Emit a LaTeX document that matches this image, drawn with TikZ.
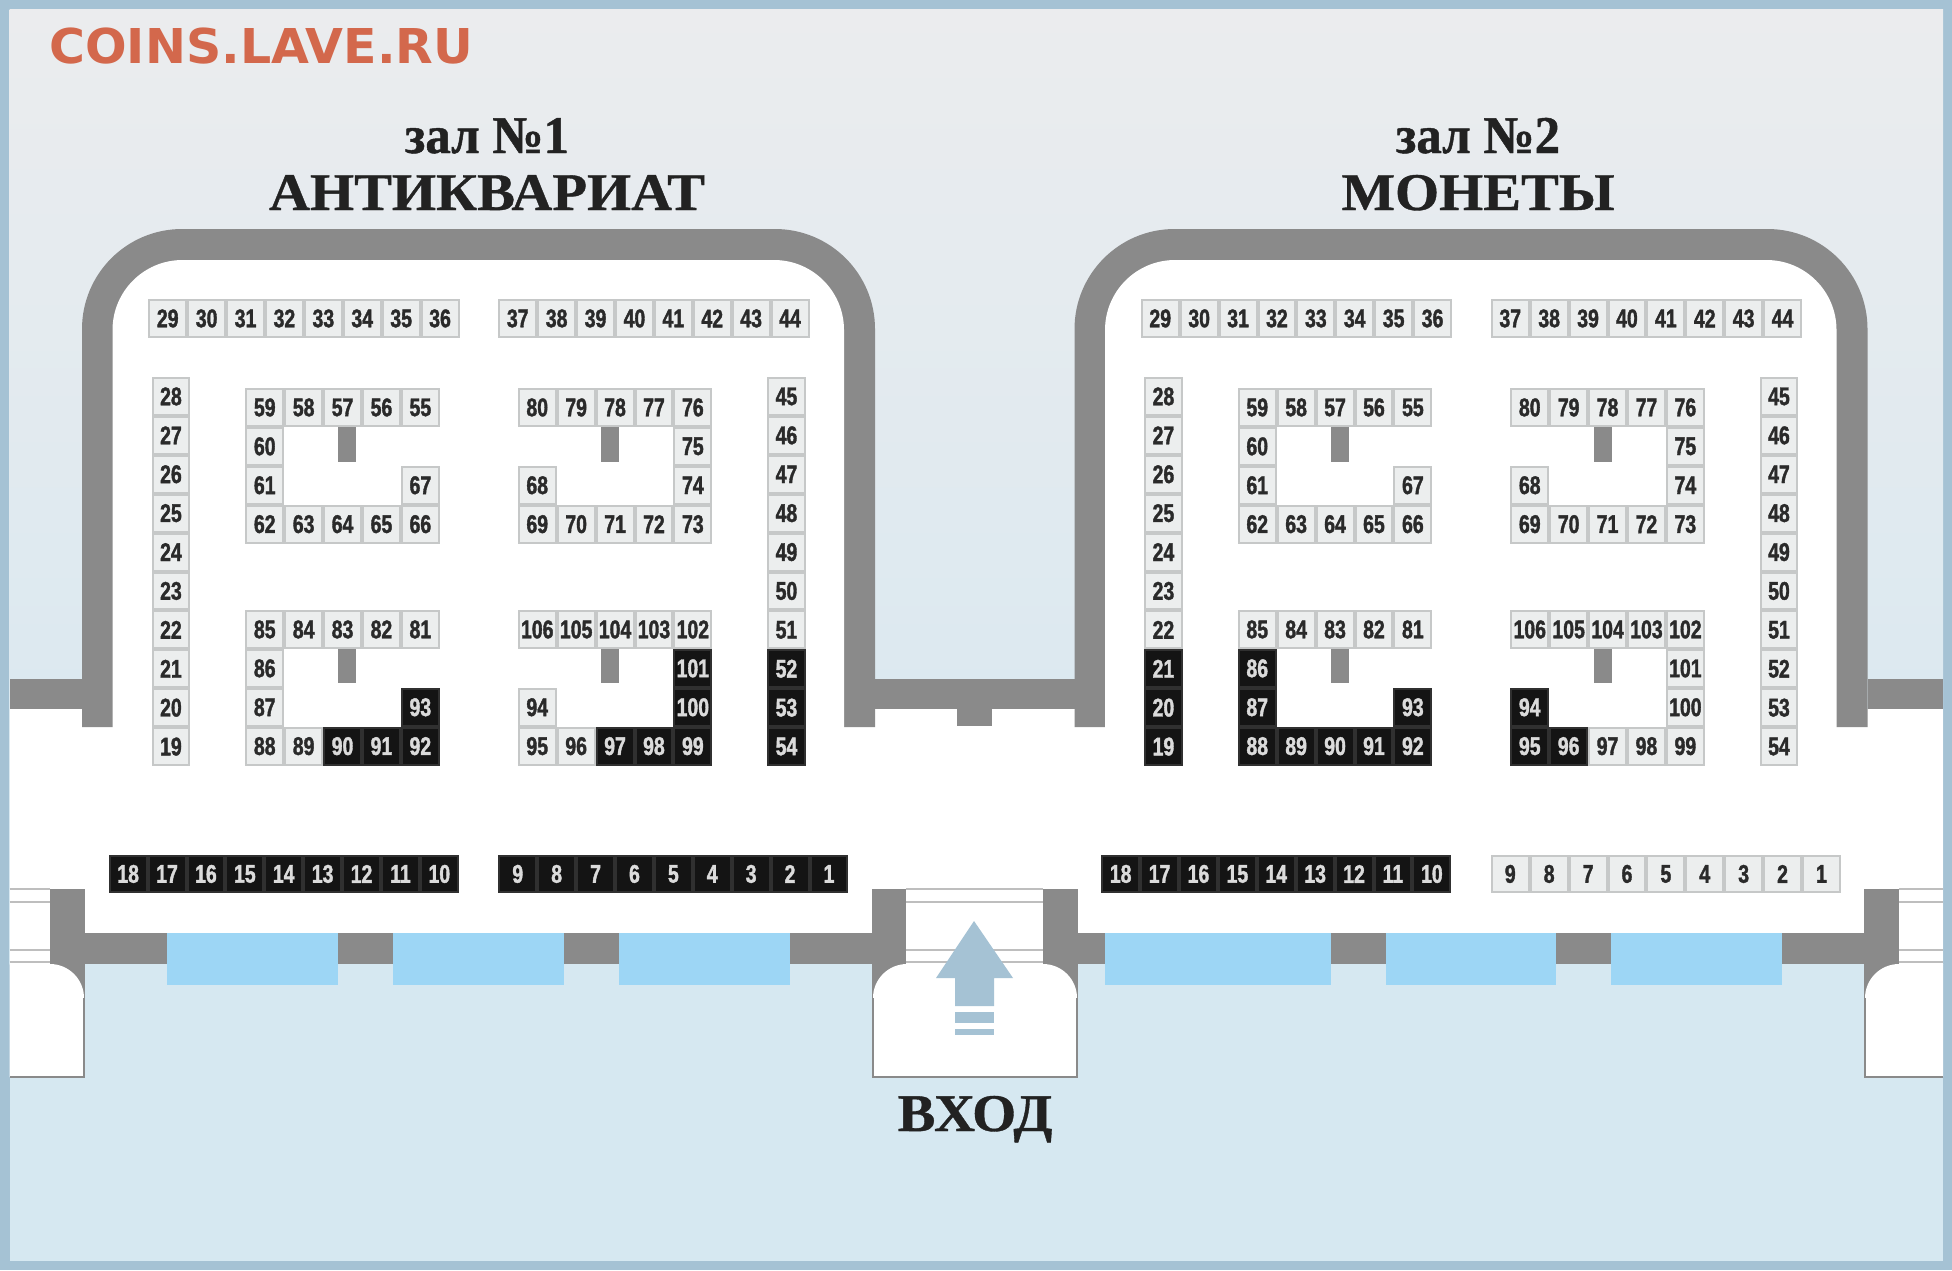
\documentclass[tikz,border=0pt]{standalone}
\usepackage{fontspec}
\setmainfont{Liberation Sans}
\newfontfamily\ttlf[FakeStretch=1.07,FakeBold=0.7]{Liberation Serif}
\newfontfamily\hallf[FakeStretch=0.96,FakeBold=0.9]{Liberation Serif}
\newfontfamily\numf[FakeStretch=0.76,FakeBold=1.4]{Liberation Sans}
\newfontfamily\logof[FakeStretch=1.02]{DejaVu Sans}
\definecolor{frame}{HTML}{A5C2D4}
\definecolor{sky}{HTML}{EBECEE}
\definecolor{ground}{HTML}{D6E8F1}
\definecolor{wall}{HTML}{8A8A8A}
\definecolor{glass}{HTML}{9DD6F5}
\definecolor{stairline}{HTML}{BEBEBE}
\definecolor{cellfill}{HTML}{ECEEEE}
\definecolor{celledge}{HTML}{C6C8C8}
\definecolor{inkdark}{HTML}{2A2A2A}
\definecolor{darkfill}{HTML}{141414}
\definecolor{darkedge}{HTML}{303030}
\definecolor{logored}{HTML}{D3684C}
\definecolor{titleink}{HTML}{222222}
\tikzset{
  cellbox/.style={draw=celledge,fill=cellfill,line width=1pt,minimum width=18.45pt,minimum height=18.45pt,
    inner sep=0pt,outer sep=0pt,text=inkdark,font=\numf\bfseries\fontsize{12.8}{13}\selectfont},
  celldark/.style={cellbox,draw=darkedge,fill=darkfill,text=black!14},
  titletext/.style={anchor=base,inner sep=0pt,text=titleink,font=\ttlf\bfseries\fontsize{26.5}{28}\selectfont},
  halltext/.style={anchor=base,inner sep=0pt,text=titleink,font=\hallf\bfseries\fontsize{26.5}{28}\selectfont},
  logotext/.style={anchor=base west,inner sep=0pt,text=logored,font=\logof\bfseries\fontsize{24}{26}\selectfont},
  wallfill/.style={fill=wall},
  glassfill/.style={fill=glass},
  stair/.style={draw=stairline,line width=1pt},
  edgeline/.style={draw=wall,line width=0.8pt},
  arrowfill/.style={fill=frame}
}
\def\cw{38.9}
\newcommand\markdark[2]{\foreach \n in {#2}{\expandafter\gdef\csname dk#1-\n\endcsname{}}}
\markdark{1}{90,91,92,93,97,98,99,100,101,52,53,54,18,17,16,15,14,13,12,11,10,9,8,7,6,5,4,3,2,1}
\markdark{2}{19,20,21,86,87,88,89,90,91,92,93,94,95,96,18,17,16,15,14,13,12,11,10}
\newcommand\bth[4]{\ifcsname dk#1-#4\endcsname\def\st{celldark}\else\def\st{cellbox}\fi
  \node[\st] (h#1b#4) at ({#2+19.45},{#3+19.45}) {#4};}
\newcommand\rowb[4]{\foreach \n [count=\i from 0] in {#4}{\bth{#1}{#2+\i*\cw}{#3}{\n}}}
\newcommand\colb[4]{\foreach \n [count=\i from 0] in {#4}{\bth{#1}{#2}{#3+\i*\cw}{\n}}}
\newcommand\hallbooths[2]{
  \rowb{#1}{#2+148.3}{299}{29,30,31,32,33,34,35,36}
  \rowb{#1}{#2+498.3}{299}{37,38,39,40,41,42,43,44}
  \colb{#1}{#2+151.5}{377}{28,27,26,25,24,23,22,21,20,19}
  \colb{#1}{#2+767}{377}{45,46,47,48,49,50,51,52,53,54}
  \rowb{#1}{#2+245.3}{388}{59,58,57,56,55}
  \colb{#1}{#2+245.3}{426.9}{60,61}
  \bth{#1}{#2+400.9}{465.8}{67}
  \rowb{#1}{#2+245.3}{504.7}{62,63,64,65,66}
  \rowb{#1}{#2+517.8}{388}{80,79,78,77,76}
  \colb{#1}{#2+673.4}{426.9}{75,74}
  \bth{#1}{#2+517.8}{465.8}{68}
  \rowb{#1}{#2+517.8}{504.7}{69,70,71,72,73}
  \rowb{#1}{#2+245.3}{610}{85,84,83,82,81}
  \colb{#1}{#2+245.3}{648.9}{86,87}
  \bth{#1}{#2+400.9}{687.8}{93}
  \rowb{#1}{#2+245.3}{726.7}{88,89,90,91,92}
  \rowb{#1}{#2+517.8}{610}{106,105,104,103,102}
  \colb{#1}{#2+673.4}{648.9}{101,100}
  \bth{#1}{#2+517.8}{687.8}{94}
  \rowb{#1}{#2+517.8}{726.7}{95,96,97,98,99}
  \rowb{#1}{#2+108.7}{854.5}{18,17,16,15,14,13,12,11,10}
  \rowb{#1}{#2+498.3}{854.5}{9,8,7,6,5,4,3,2,1}
  \fill[wallfill] ({#2+338},427) rectangle ({#2+356},462);
  \fill[wallfill] ({#2+601},427) rectangle ({#2+619},462);
  \fill[wallfill] ({#2+338},649) rectangle ({#2+356},683);
  \fill[wallfill] ({#2+601},649) rectangle ({#2+619},683);
}
\newcommand\hallshell[1]{
  \fill[wallfill] ({#1+82},727) [rounded corners=50pt] -- ({#1+82},229) -- ({#1+875},229) [sharp corners] -- ({#1+875},727) -- cycle;
  \fill[white] ({#1+112.5},740) [rounded corners=35pt] -- ({#1+112.5},260) -- ({#1+844},260) [sharp corners] -- ({#1+844},740) -- cycle;
}
\begin{document}
\begin{tikzpicture}[x=0.5pt,y=-0.5pt]
\useasboundingbox (0,0) rectangle (1952,1270);
% frame and sky
\fill[frame] (0,0) rectangle (1952,1270);
\fill[ground] (9.5,9.5) rectangle (1943,1260.5);
\shade[top color=sky,bottom color=ground] (9.5,9.5) rectangle (1943,964);
% floor
\fill[white] (9.5,709) rectangle (1943,933);
\hallshell{0}
\hallshell{992.5}
\fill[wallfill] (9.5,679) rectangle (82,709);
\fill[wallfill] (875,679) rectangle (1074.5,709);
\fill[wallfill] (1867.5,679) rectangle (1943,709);
\fill[wallfill] (957,709) rectangle (992,726);
% windows and front wall
\fill[wallfill] (85,933) rectangle (1864,964);
\foreach \a/\b in {167/338,393/564,619/790,1105/1331,1386/1556,1611/1782}
  \fill[glassfill] (\a,933) rectangle (\b,985);
% side vestibules and central entrance
\fill[wall] (50,889) rectangle (85,1000);
\fill[wall] (872,889) rectangle (906,1000);
\fill[wall] (1043,889) rectangle (1078,1000);
\fill[wall] (1864,889) rectangle (1899,1000);
\fill[white] (9.5,889) rectangle (50,964);
\fill[white] (906,889) rectangle (1043,964);
\fill[white] (1899,889) rectangle (1943,964);
\fill[white] (9.5,964) [rounded corners=17pt] -- (84,964) [sharp corners] -- (84,1077) -- (9.5,1077) -- cycle;
\draw[edgeline] (84,998) -- (84,1077) -- (9.5,1077);
\fill[white] (873,1077) [rounded corners=17pt] -- (873,964) -- (1077,964) [sharp corners] -- (1077,1077) -- cycle;
\draw[edgeline] (873,998) -- (873,1077) -- (1077,1077) -- (1077,998);
\fill[white] (1943,1077) -- (1865,1077) [rounded corners=17pt] -- (1865,964) [sharp corners] -- (1943,964) -- cycle;
\draw[edgeline] (1865,998) -- (1865,1077) -- (1943,1077);
\foreach \yy in {889,902,950,962}{
  \draw[stair] (9.5,\yy) -- (50,\yy);
  \draw[stair] (906,\yy) -- (1043,\yy);
  \draw[stair] (1899,\yy) -- (1943,\yy);
}
% entrance arrow
\fill[arrowfill] (974,921) -- (1013,978) -- (994,978) -- (994,1006) -- (955,1006) -- (955,978) -- (936,978) -- cycle;
\fill[arrowfill] (955,1012) rectangle (994,1023);
\fill[arrowfill] (955,1029) rectangle (994,1035);
% booths
\hallbooths{1}{0}
\hallbooths{2}{992.5}
% texts
\node[logotext] (logo) at (49,63) {COINS.LAVE.RU};
\node[halltext] (hallonenum) at (487,153) {зал №1};
\node[titletext] (halloname) at (487,210) {АНТИКВАРИАТ};
\node[halltext] (halltwonum) at (1478,153) {зал №2};
\node[titletext] (halltname) at (1478,210) {МОНЕТЫ};
\node[titletext] (entry) at (975,1131) {ВХОД};
\end{tikzpicture}
\end{document}
